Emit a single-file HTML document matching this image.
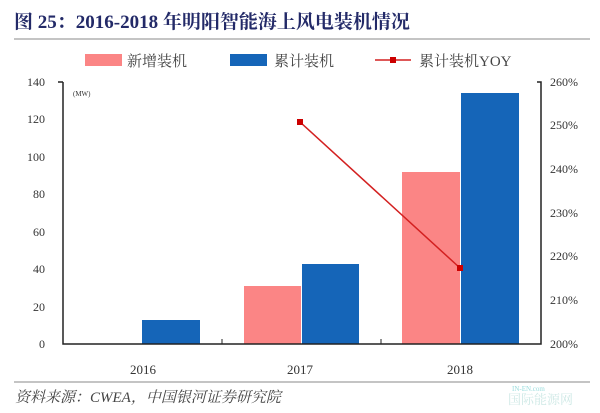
<!DOCTYPE html>
<html><head><meta charset="utf-8"><style>
body{margin:0;background:#fff;width:600px;height:408px;overflow:hidden;font-family:"Liberation Serif","Noto Serif CJK SC",serif;}
</style></head><body>
<svg width="600" height="408" xmlns="http://www.w3.org/2000/svg" font-family="Liberation Serif, Noto Serif CJK SC, serif">
<text x="14" y="28" font-size="19" font-weight="bold" fill="#232a68">图 25：2016-2018 年明阳智能海上风电装机情况</text>
<line x1="14" y1="39" x2="590" y2="39" stroke="#888" stroke-width="1"/>
<rect x="85" y="54" width="37" height="12" fill="#fb8585"/>
<text x="127" y="66" font-size="15" fill="#444">新增装机</text>
<rect x="230" y="54" width="37" height="12" fill="#1565b8"/>
<text x="274" y="66" font-size="15" fill="#444">累计装机</text>
<line x1="375" y1="60" x2="411" y2="60" stroke="#d32020" stroke-width="1.5"/>
<rect x="390" y="57" width="6" height="6" fill="#c00"/>
<text x="419" y="66" font-size="15" fill="#444">累计装机YOY</text>
<g font-size="12" fill="#333" text-anchor="end">
<text x="45" y="86">140</text><text x="45" y="123">120</text><text x="45" y="161">100</text>
<text x="45" y="198">80</text><text x="45" y="236">60</text><text x="45" y="273">40</text>
<text x="45" y="311">20</text><text x="45" y="348">0</text>
</g>
<g font-size="12" fill="#333">
<text x="550" y="86">260%</text><text x="550" y="129">250%</text><text x="550" y="173">240%</text>
<text x="550" y="217">230%</text><text x="550" y="260">220%</text><text x="550" y="304">210%</text><text x="550" y="348">200%</text>
</g>
<text x="73" y="96" font-size="7" fill="#333">(MW)</text>
<rect x="142" y="320" width="58" height="24" fill="#1565b8"/>
<rect x="244" y="286" width="57" height="58" fill="#fb8585"/>
<rect x="302" y="264" width="57" height="80" fill="#1565b8"/>
<rect x="402" y="172" width="58" height="172" fill="#fb8585"/>
<rect x="461" y="93" width="58" height="251" fill="#1565b8"/>
<path d="M63 82 H58 M63 82 V344 H541 V82 H537" fill="none" stroke="#222" stroke-width="1.5"/>
<line x1="222" y1="344" x2="222" y2="339" stroke="#222"/>
<line x1="381" y1="344" x2="381" y2="339" stroke="#222"/>
<line x1="300" y1="122" x2="460" y2="268" stroke="#d32020" stroke-width="1.5"/>
<rect x="297" y="119" width="6" height="6" fill="#c00"/>
<rect x="457" y="265" width="6" height="6" fill="#c00"/>
<g font-size="13" fill="#333" text-anchor="middle">
<text x="143" y="374">2016</text><text x="300" y="374">2017</text><text x="460" y="374">2018</text>
</g>
<line x1="14" y1="382" x2="590" y2="382" stroke="#888" stroke-width="1"/>
<text x="15" y="402" font-size="15" font-style="italic" fill="#444">资料来源：CWEA，中国银河证券研究院</text>
<text x="512" y="391" font-size="7" fill="#9dd">IN-EN.com</text>
<text x="508" y="404" font-size="13" fill="#cfe9e6">国际能源网</text>
</svg>
</body></html>
